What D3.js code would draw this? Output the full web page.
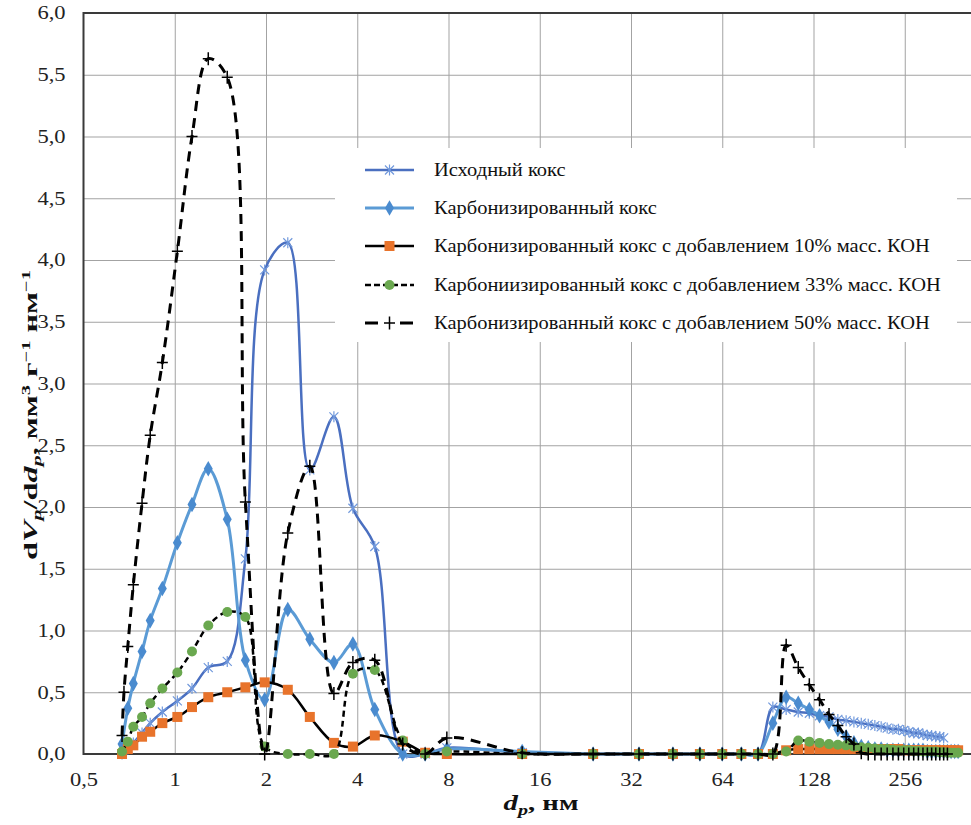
<!DOCTYPE html>
<html>
<head>
<meta charset="utf-8">
<script src="https://cdnjs.cloudflare.com/ajax/libs/d3/7.8.5/d3.min.js"></script>
<style>
body { margin: 0; background: #fff; }
svg { display: block; }
</style>
</head>
<body>
<div id="vis"></div>
<script>
// pore diameter bins, nm
const dp = [0.67, 0.68, 0.70, 0.73, 0.78, 0.83, 0.91, 1.02, 1.14, 1.29, 1.49, 1.71, 1.98, 2.36, 2.79, 3.35, 3.87, 4.57, 5.65, 6.7, 7.9,
  14, 24, 34, 44, 54, 64, 74, 84, 94, 104, 114, 124, 134, 144, 154, 164, 174, 184, 194, 204, 214, 224, 234, 244,
  254, 264, 274, 284, 294, 304, 314, 324, 334, 344, 354, 364, 374, 384];

// dVp/ddp values per series (null = no point at that bin)
const ishodny = [0.00, null, 0.04, 0.09, 0.17, 0.25, 0.34, 0.43, 0.53, 0.70, 0.75, 1.58, 3.92, 4.14, 2.30, 2.73, 1.99, 1.68, 0.00, 0.00, 0.05,
  0.01, 0.00, 0.00, 0.00, 0.00, 0.00, 0.00, 0.00, 0.38, 0.36, 0.34, 0.33, 0.31, 0.30, 0.28, 0.27, 0.26, 0.25, 0.24, 0.23, 0.22, 0.21, 0.20, 0.20,
  0.19, 0.18, 0.17, 0.17, 0.16, 0.15, 0.15, 0.14, 0.14, 0.13, null, null, null, null];
const karb = [0.08, null, 0.37, 0.57, 0.83, 1.08, 1.34, 1.71, 2.02, 2.31, 1.90, 0.76, 0.44, 1.17, 0.93, 0.74, 0.89, 0.36, 0.00, 0.00, 0.04,
  0.02, 0.00, 0.00, 0.00, 0.00, 0.00, 0.00, 0.00, 0.25, 0.46, 0.41, 0.36, 0.31, 0.26, 0.20, 0.14, 0.09, 0.06, 0.05, 0.04, 0.04, 0.03, 0.03, 0.03,
  0.03, 0.03, 0.03, 0.03, 0.03, 0.02, 0.02, 0.02, 0.02, 0.02, 0.02, 0.02, 0.02, 0.02];
const koh10 = [0.00, null, 0.04, 0.07, 0.14, 0.18, 0.25, 0.30, 0.38, 0.46, 0.50, 0.54, 0.58, 0.52, 0.30, 0.09, 0.06, 0.15, 0.10, 0.01, 0.00,
  0.00, 0.00, 0.00, 0.00, 0.00, 0.00, 0.00, 0.00, 0.00, 0.03, 0.04, 0.04, 0.04, 0.04, 0.04, 0.04, 0.04, 0.04, 0.04, 0.04, 0.04, 0.04, 0.04, 0.04,
  0.03, 0.03, 0.03, 0.03, 0.03, 0.03, 0.03, 0.03, 0.03, 0.03, 0.03, 0.03, 0.03, 0.03];
const koh33 = [0.02, null, 0.10, 0.22, 0.30, 0.41, 0.53, 0.66, 0.83, 1.04, 1.15, 1.11, 0.06, 0.00, 0.00, 0.00, 0.65, 0.68, 0.11, 0.00, 0.02,
  0.00, 0.00, 0.00, 0.00, 0.00, 0.00, 0.00, 0.00, 0.00, 0.02, 0.11, 0.10, 0.09, 0.08, 0.075, 0.07, 0.06, 0.055, 0.05, 0.045, 0.04, 0.04, 0.035, 0.03,
  0.03, 0.03, 0.025, 0.025, 0.02, 0.02, 0.02, 0.02, 0.015, 0.015, 0.01, 0.01, 0.01, 0.01];
const koh50 = [0.15, 0.50, 0.87, 1.37, 2.03, 2.58, 3.17, 4.07, 5.00, 5.63, 5.48, 2.04, 0.00, 1.79, 2.33, 0.49, 0.74, 0.76, 0.08, 0.00, 0.13,
  0.01, 0.00, 0.00, 0.00, 0.00, 0.00, 0.00, 0.00, 0.00, 0.88, 0.70, 0.56, 0.44, 0.32, 0.23, 0.14, 0.08, 0.01, 0.00, 0.00, 0.00, 0.00, 0.00, 0.00,
  0.00, 0.00, 0.00, 0.00, 0.00, 0.00, 0.00, 0.00, 0.00, 0.00, 0.00, null, null, null];

const seriesNames = [
  "Исходный кокс",
  "Карбонизированный кокс",
  "Карбонизированный кокс с добавлением 10% масс. КОН",
  "Карбониизированный кокс с добавлением 33% масс. КОН",
  "Карбонизированный кокс с добавлением 50% масс. КОН"
];

const xTicks = [0.5, 1, 2, 4, 8, 16, 32, 64, 128, 256];
const yTicks = [0, 0.5, 1, 1.5, 2, 2.5, 3, 3.5, 4, 4.5, 5, 5.5, 6];

const width = 971, height = 825;
const FF = '"Liberation Serif"';

const series = [
  {values: ishodny, color: "#4a6fc0", width: 2.5, dash: null, marker: "star"},
  {values: karb, color: "#5b9bd5", width: 3, dash: null, marker: "diamond"},
  {values: koh10, color: "#000", width: 2.5, dash: null, marker: "square"},
  {values: koh33, color: "#000", width: 2.5, dash: "6,4", marker: "circle"},
  {values: koh50, color: "#000", width: 3, dash: "10,7", marker: "plus"}
];

const x = d3.scaleLog().base(2).domain([0.5, 512]).range([83.5, 996]);
const y = d3.scaleLinear().domain([0, 6]).range([754, 13]);

const svg = d3.select("#vis").append("svg")
  .attr("width", width)
  .attr("height", height);

// grid lines
svg.append("g")
  .attr("transform", `translate(0,${y(0)})`)
  .call(d3.axisBottom(x).tickValues(xTicks.slice(1)).tickSize(-(y(0) - y(6))).tickFormat(""))
  .call(g => g.select(".domain").remove())
  .call(g => g.selectAll("line").attr("stroke", "#a3a3a3").attr("stroke-width", 1));

svg.append("g")
  .attr("transform", `translate(${x(0.5)},0)`)
  .call(d3.axisLeft(y).tickValues(yTicks.slice(1)).tickSize(-(x(512) - x(0.5))).tickFormat(""))
  .call(g => g.select(".domain").remove())
  .call(g => g.selectAll("line").attr("stroke", "#a3a3a3").attr("stroke-width", 1));

// plot frame
svg.append("rect")
  .attr("x", x(0.5)).attr("y", y(6))
  .attr("width", x(512) - x(0.5)).attr("height", y(0) - y(6))
  .attr("fill", "none").attr("stroke", "#3a3a3a").attr("stroke-width", 2);

// tick labels
const fmtX = d => d === 0.5 ? "0,5" : String(d);
const fmtY = d => d3.format(".1f")(d).replace(".", ",");
const tickStretch = 1.25;

const gx = svg.append("g")
  .attr("transform", `translate(0,${y(0)})`)
  .call(d3.axisBottom(x).tickValues(xTicks).tickSize(0).tickPadding(19).tickFormat(fmtX))
  .call(g => g.select(".domain").remove());
gx.selectAll("text")
  .attr("font-family", FF).attr("font-size", 18).attr("fill", "#222")
  .attr("transform", `scale(${tickStretch},1)`);

const gy = svg.append("g")
  .attr("transform", `translate(${x(0.5)},0)`)
  .call(d3.axisLeft(y).tickValues(yTicks).tickSize(0).tickPadding(18).tickFormat(fmtY))
  .call(g => g.select(".domain").remove());
gy.selectAll("text")
  .attr("font-family", FF).attr("font-size", 18).attr("fill", "#222").attr("x", 0)
  .attr("transform", `translate(-18,0) scale(${tickStretch},1)`);

// markers
function drawMarker(g, type, cx, cy) {
  if (type === "star") {
    g.append("path")
      .attr("d", `M${cx - 4.5},${cy - 4.5}L${cx + 4.5},${cy + 4.5}M${cx - 4.5},${cy + 4.5}L${cx + 4.5},${cy - 4.5}M${cx},${cy - 5.5}L${cx},${cy + 5.5}`)
      .attr("stroke", "#7199dc").attr("stroke-width", 1.2).attr("fill", "none");
  } else if (type === "diamond") {
    g.append("path")
      .attr("d", d3.symbol(d3.symbolDiamond, 70)())
      .attr("transform", `translate(${cx},${cy})`)
      .attr("fill", "#4a8bcf");
  } else if (type === "square") {
    g.append("rect")
      .attr("x", cx - 5).attr("y", cy - 5).attr("width", 10).attr("height", 10)
      .attr("fill", "#e8732b");
  } else if (type === "circle") {
    g.append("circle")
      .attr("cx", cx).attr("cy", cy).attr("r", 5)
      .attr("fill", "#6aa84f");
  } else if (type === "plus") {
    g.append("path")
      .attr("d", `M${cx - 5.5},${cy}L${cx + 5.5},${cy}M${cx},${cy - 6.5}L${cx},${cy + 6.5}`)
      .attr("stroke", "#000").attr("stroke-width", 1.5).attr("fill", "none");
  }
}

const line = d3.line()
  .x(d => x(d.x))
  .y(d => y(d.y))
  .curve(d3.curveCatmullRom.alpha(0.5));

series.forEach(s => {
  const pts = dp.map((v, i) => ({x: v, y: s.values[i]})).filter(d => d.y !== null);
  const g = svg.append("g");
  g.append("path")
    .datum(pts)
    .attr("d", line)
    .attr("fill", "none")
    .attr("stroke", s.color)
    .attr("stroke-width", s.width)
    .attr("stroke-dasharray", s.dash)
    .attr("stroke-linejoin", "round");
  pts.forEach(p => drawMarker(g, s.marker, x(p.x), y(p.y)));
});

// legend
const legend = svg.append("g");
legend.append("rect")
  .attr("x", 335).attr("y", 148).attr("width", 622).attr("height", 194)
  .attr("fill", "#fff");

const rowY = [170, 208, 246, 285, 323];
const legendTexts = [];
series.forEach((s, i) => {
  const ly = rowY[i];
  legend.append("line")
    .attr("x1", 365).attr("x2", 414).attr("y1", ly).attr("y2", ly)
    .attr("stroke", s.color).attr("stroke-width", s.width)
    .attr("stroke-dasharray", i === 3 ? "6,3" : i === 4 ? "13,22" : null);
  drawMarker(legend, s.marker, 389.5, ly);
  legendTexts.push(legend.append("text")
    .attr("font-family", FF).attr("font-size", 19).attr("fill", "#111")
    .attr("data-y", ly + 6)
    .text(seriesNames[i]));
});
// stretch legend text so the 10% row spans the same width as in the picture
const legendK = 496 / legendTexts[2].node().getComputedTextLength();
legendTexts.forEach(t => t.attr("transform", `translate(434,${t.attr("data-y")}) scale(${legendK},1)`));

// axis titles
const yTitle = svg.append("text")
  .attr("text-anchor", "middle")
  .attr("font-family", FF).attr("font-size", 19).attr("font-weight", "bold").attr("fill", "#111");
yTitle.append("tspan").text("d");
yTitle.append("tspan").attr("font-style", "italic").text("V");
yTitle.append("tspan").attr("font-style", "italic").attr("font-size", 13).attr("dy", 4).text("p");
yTitle.append("tspan").attr("dy", -4).text("/d");
yTitle.append("tspan").attr("font-style", "italic").text("d");
yTitle.append("tspan").attr("font-style", "italic").attr("font-size", 13).attr("dy", 4).text("p");
yTitle.append("tspan").attr("dy", -4).text(", мм");
yTitle.append("tspan").attr("font-size", 12).attr("dy", -7).text("3");
yTitle.append("tspan").attr("dy", 7).text(" г");
yTitle.append("tspan").attr("font-size", 12).attr("dy", -7).text("−1");
yTitle.append("tspan").attr("dy", 7).text(" нм");
yTitle.append("tspan").attr("font-size", 12).attr("dy", -7).text("−1");
const yK = 290 / yTitle.node().getComputedTextLength();
yTitle.attr("transform", `translate(37,415) rotate(-90) scale(${yK},1)`);

const xTitle = svg.append("text")
  .attr("text-anchor", "middle")
  .attr("font-family", FF).attr("font-size", 20).attr("font-weight", "bold").attr("fill", "#111");
xTitle.append("tspan").attr("font-style", "italic").text("d");
xTitle.append("tspan").attr("font-style", "italic").attr("font-size", 14).attr("dy", 5).text("p");
xTitle.append("tspan").attr("dy", -5).text(", нм");
const xK = 75 / xTitle.node().getComputedTextLength();
xTitle.attr("transform", `translate(541,810) scale(${xK},1)`);
</script>
</body>
</html>
